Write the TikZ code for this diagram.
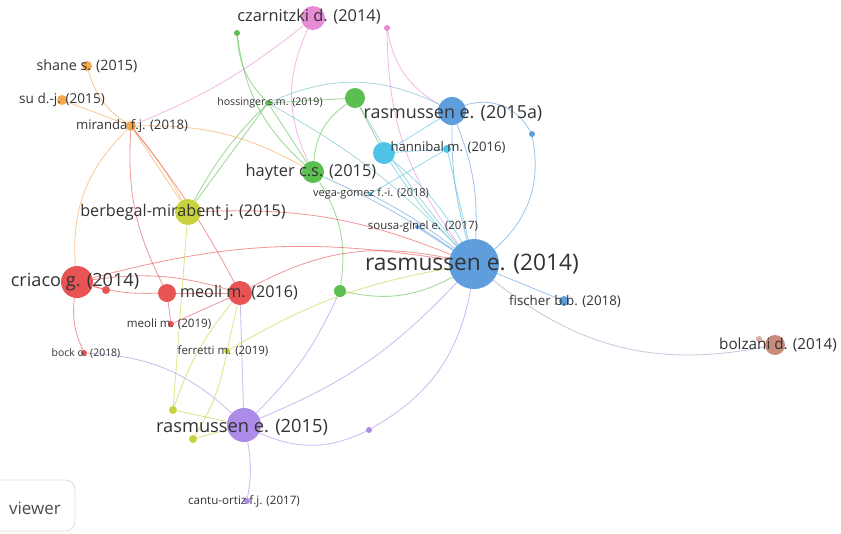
\documentclass[tikz,border=0pt]{standalone}
\usepackage{fontspec}
\setmainfont{Open Sans}
\usetikzlibrary{backgrounds}
\definecolor{vblue}{RGB}{95,158,220}
\definecolor{vcyan}{RGB}{80,196,230}
\definecolor{vgreen}{RGB}{90,190,80}
\definecolor{vpink}{RGB}{230,140,215}
\definecolor{vorange}{RGB}{245,168,80}
\definecolor{vyellow}{RGB}{200,210,60}
\definecolor{vred}{RGB}{232,84,84}
\definecolor{vpurple}{RGB}{172,140,232}
\definecolor{vbrown}{RGB}{200,140,122}
\definecolor{vgrey}{RGB}{150,170,200}
\definecolor{vteal}{RGB}{110,190,200}
\begin{document}
\begin{tikzpicture}[x=0.3mm, y=-0.3mm,
    bub/.style 2 args={circle, inner sep=0pt, fill=#1, minimum size=#2*0.6mm},
    lbl/.style={text=black!80, inner sep=0pt, font=\fontsize{#1}{#1}\selectfont},
    edg/.style={draw=#1, line width=0.7pt, opacity=0.6}]
  \useasboundingbox (0,0) rectangle (841,533);

  % Items
  \node[bub={vblue}{25}] (ras14) at (474,264) {};
  \node[bub={vblue}{14}] (ras15a) at (452,111) {};
  \node[bub={vblue}{3}] (blueA) at (532,134) {};
  \node[bub={vblue}{5}] (fischer) at (564,301) {};
  \node[bub={vblue}{2}] (sousa) at (417,227) {};
  \node[bub={vcyan}{11}] (cyanN) at (384,153) {};
  \node[bub={vcyan}{4}] (hann) at (447,149) {};
  \node[bub={vcyan}{2}] (vega) at (370,194) {};
  \node[bub={vgreen}{11}] (hayter) at (313,172) {};
  \node[bub={vgreen}{10}] (greenA) at (355,98) {};
  \node[bub={vgreen}{6}] (greenB) at (340,291) {};
  \node[bub={vgreen}{3}] (greenC) at (237,33) {};
  \node[bub={vgreen}{3}] (hoss) at (268,103) {};
  \node[bub={vpink}{12}] (czarn) at (313,18) {};
  \node[bub={vpink}{3}] (pinkA) at (387,28) {};
  \node[bub={vorange}{5}] (shane) at (87,66) {};
  \node[bub={vorange}{5}] (su) at (62,100) {};
  \node[bub={vorange}{5}] (miranda) at (131,126) {};
  \node[bub={vyellow}{13}] (berb) at (188,212) {};
  \node[bub={vyellow}{3}] (ferr) at (227,351) {};
  \node[bub={vyellow}{4}] (ylA) at (173,410) {};
  \node[bub={vyellow}{4}] (ylB) at (193,439) {};
  \node[bub={vred}{16}] (criaco) at (77,282) {};
  \node[bub={vred}{12}] (meoli16) at (240,293) {};
  \node[bub={vred}{9}] (redB) at (167,293) {};
  \node[bub={vred}{4}] (redC) at (106,290) {};
  \node[bub={vred}{3}] (meoli19) at (171,324) {};
  \node[bub={vred}{3}] (bock) at (84,353) {};
  \node[bub={vpurple}{17}] (ras15) at (244,425) {};
  \node[bub={vpurple}{3}] (purpleA) at (369,430) {};
  \node[bub={vpurple}{3}] (cantu) at (247,501) {};
  \node[bub={vbrown}{10}] (bolz) at (775,345) {};
  \node[bub={vbrown!70}{3}] (bolzA) at (759,339) {};

  % Links
  \begin{pgfonlayer}{background}
    \fill[white] (0,0) rectangle (841,533);
    \draw[edg=vblue] (ras14) to[bend left=8] (ras15a);
    \draw[edg=vblue] (ras14) to[bend right=12] (ras15a);
    \draw[edg=vblue] (ras14) to[bend right=30] (blueA);
    \draw[edg=vblue] (ras15a) to[bend left=40] (blueA);
    \draw[edg=vblue] (ras14) -- (fischer);
    \draw[edg=vgrey] (ras14) to[bend right=25] (bolz);
    \draw[edg=vblue] (ras14) -- (sousa);
    \draw[edg=vblue] (ras14) to[bend right=5] (vega);
    \draw[edg=vcyan] (ras14) to[bend left=5] (cyanN);
    \draw[edg=vcyan] (ras14) to[bend right=10] (cyanN);
    \draw[edg=vcyan] (ras14) -- (hann);
    \draw[edg=vcyan] (cyanN) -- (ras15a);
    \draw[edg=vcyan] (cyanN) -- (hann);
    \draw[edg=vcyan] (vega) -- (hann);
    \draw[edg=vpink] (ras14) to[bend left=18] (pinkA);
    \draw[edg=vpink] (pinkA) to[bend right=25] (ras15a);
    \draw[edg=vteal] (hoss) to[bend left=25] (ras15a);
    \draw[edg=vteal] (hoss) to[bend left=8] (ras14);
    \draw[edg=vteal] (greenA) to[bend right=5] (ras14);
    \draw[edg=vblue] (hayter) to[bend left=5] (ras14);
    \draw[edg=vgreen] (greenA) -- (cyanN);
    \draw[edg=vgreen] (greenA) to[bend right=25] (hayter);
    \draw[edg=vgreen] (greenA) -- (hoss);
    \draw[edg=vgreen] (hoss) to[bend left=20] (greenC);
    \draw[edg=vgreen] (greenC) to[bend right=20] (hayter);
    \draw[edg=vgreen] (hoss) -- (hayter);
    \draw[edg=vgreen] (hoss) -- (berb);
    \draw[edg=vgreen] (hoss) to[bend right=8] (berb);
    \draw[edg=vgreen] (hayter) to[bend left=20] (greenB);
    \draw[edg=vgreen] (greenB) to[bend right=20] (ras14);
    \draw[edg=vpurple] (greenB) to[bend left=10] (ras15);
    \draw[edg=vpink] (czarn) to[bend right=25] (hayter);
    \draw[edg=vpink] (czarn) to[bend left=8] (miranda);
    \draw[edg=vorange] (miranda) to[bend left=20] (shane);
    \draw[edg=vorange] (miranda) -- (su);
    \draw[edg=vorange] (miranda) to[bend right=25] (criaco);
    \draw[edg=vorange] (miranda) -- (berb);
    \draw[edg=vorange] (miranda) to[bend left=6] (berb);
    \draw[edg=vorange] (miranda) to[bend left=15] (hayter);
    \draw[edg=vred] (miranda) to[bend right=15] (redB);
    \draw[edg=vred] (miranda) to[bend left=5] (meoli16);
    \draw[edg=vred] (criaco) -- (redC);
    \draw[edg=vred] (criaco) to[bend right=8] (redB);
    \draw[edg=vred] (criaco) to[bend left=12] (meoli16);
    \draw[edg=vred] (redB) -- (meoli16);
    \draw[edg=vred] (redB) -- (meoli19);
    \draw[edg=vred] (meoli16) -- (meoli19);
    \draw[edg=vred] (criaco) to[bend right=15] (bock);
    \draw[edg=vred] (criaco) to[bend left=12] (ras14);
    \draw[edg=vred] (meoli16) to[bend left=20] (ras14);
    \draw[edg=vred] (berb) to[bend left=12] (ras14);
    \draw[edg=vpurple] (meoli16) -- (ras15);
    \draw[edg=vpurple] (bock) to[bend left=20] (ras15);
    \draw[edg=vyellow] (berb) -- (ylA);
    \draw[edg=vyellow] (meoli16) to[bend right=10] (ylA);
    \draw[edg=vyellow] (ferr) to[bend left=10] (ylB);
    \draw[edg=vyellow] (ferr) -- (meoli16);
    \draw[edg=vyellow] (ferr) to[bend left=10] (ras14);
    \draw[edg=vyellow] (ras15) -- (ylA);
    \draw[edg=vyellow] (ras15) -- (ylB);
    \draw[edg=vpurple] (ras15) to[bend right=12] (ras14);
    \draw[edg=vpurple] (ras15) to[bend right=25] (purpleA);
    \draw[edg=vpurple] (purpleA) to[bend right=25] (ras14);
    \draw[edg=vpurple] (ras15) to[bend left=10] (cantu);
    \draw[edg=vbrown] (bolz) -- (bolzA);
  \end{pgfonlayer}

  % Labels
  \node[lbl=19.4] (ras14-l) at (472,264) {rasmussen e. (2014)};
  \node[lbl=15.3] (ras15a-l) at (453,113) {rasmussen e. (2015a)};
  \node[lbl=15.6] (ras15-l) at (242,427) {rasmussen e. (2015)};
  \node[lbl=15.5] (criaco-l) at (75,282) {criaco g. (2014)};
  \node[lbl=13.8] (berb-l) at (183,212) {berbegal-mirabent j. (2015)};
  \node[lbl=14] (hayter-l) at (311,172) {hayter c.s. (2015)};
  \node[lbl=13.8] (meoli16-l) at (239,293) {meoli m. (2016)};
  \node[lbl=14] (czarn-l) at (309,17) {czarnitzki d. (2014)};
  \node[lbl=13] (bolz-l) at (778,345) {bolzani d. (2014)};
  \node[lbl=12.2] (shane-l) at (87,66) {shane s. (2015)};
  \node[lbl=11.6] (su-l) at (62,100) {su d.-j. (2015)};
  \node[lbl=11.2] (miranda-l) at (132,126) {miranda f.j. (2018)};
  \node[lbl=9] (hoss-l) at (270,103) {hossinger s.m. (2019)};
  \node[lbl=11.2] (hann-l) at (448,148) {hannibal m. (2016)};
  \node[lbl=9.4] (vega-l) at (371,194) {vega-gomez f.-i. (2018)};
  \node[lbl=9.8] (sousa-l) at (423,227) {sousa-ginel e. (2017)};
  \node[lbl=11.4] (fischer-l) at (565,301) {fischer b.b. (2018)};
  \node[lbl=9.9] (meoli19-l) at (169,324) {meoli m. (2019)};
  \node[lbl=8.9] (bock-l) at (86,353) {bock o. (2018)};
  \node[lbl=9.8] (ferr-l) at (223,351) {ferretti m. (2019)};
  \node[lbl=9.9] (cantu-l) at (244,501) {cantu-ortiz f.j. (2017)};

  % Logo button
  \draw[black!12, line width=0.8pt, rounded corners=8] (-10,480) rectangle (75,531);
  \node[lbl=14.5, text=black!70, anchor=east] (logo) at (61,508) {viewer};
\end{tikzpicture}
\end{document}
